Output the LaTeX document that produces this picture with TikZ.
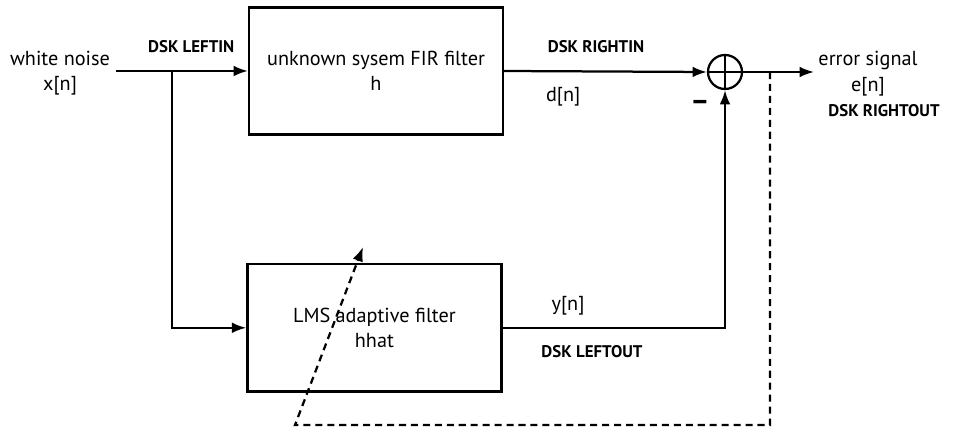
\documentclass[tikz,border=0pt]{standalone}
\usepackage{fontspec}
\setmainfont{PT Sans}
\usepackage{tikz}
\usetikzlibrary{arrows.meta, positioning, shapes}

\begin{document}
\begin{tikzpicture}[line width=1.6pt,
          box/.style={draw,minimum width=6.35cm,minimum height=3.18cm,
                      align=center,inner sep=4pt,font=\Large},
          lbl/.style={align=center,font=\Large},
          dsk/.style={font=\large\bfseries}]
        \useasboundingbox (0,0) rectangle (24.1,10.775);
        \node[lbl](src) at (1.5,8.95){white noise\\x[n]};
        \node[box](plant) at (9.4,9.0){unknown sysem FIR filter\\h};
        \node[box](lms) at (9.36,2.58){LMS adaptive filter\\hhat};
        \node[draw,circle,minimum size=0.85cm,inner sep=0pt](sum) at (18.125,8.975){};
        \draw[line width=1.2pt](sum.north)--(sum.south) (sum.west)--(sum.east);
        \node[lbl](err) at (21.7,8.93){error signal\\e[n]};
        \node[dsk](lin) at (4.78,9.6){DSK LEFTIN};
        \node[dsk](rin) at (14.9,9.6){DSK RIGHTIN};
        \node[dsk](rout) at (22.1,8.0){DSK RIGHTOUT};
        \node[dsk](lout) at (14.8,1.98){DSK LEFTOUT};
        \node[lbl](dn) at (14.08,8.35){d[n]};
        \node[lbl](yn) at (14.2,3.13){y[n]};
        \node[font=\huge\bfseries](minus) at (17.5,8.13){--};
        \coordinate (split) at (4.3,0 |- plant.west);
        \coordinate (tap) at (19.25,0 |- sum.east);
        \coordinate (tip) at (9.075,4.6);
        \draw[-{Latex}](src.east |- plant.west)--(plant.west);
        \draw[-{Latex}](split)|-(lms.west);
        \draw[-{Latex}](plant.east)--(sum.west);
        \draw[-{Latex}](lms.east)-|(sum.south);
        \draw[-{Latex}](sum.east)--(20.35,0 |- sum.east);
        \draw[-{Latex},dash pattern=on 5pt off 3.5pt](tap)--(19.25,0.15)--(7.375,0.15)--(tip);
      \end{tikzpicture}
\end{document}
